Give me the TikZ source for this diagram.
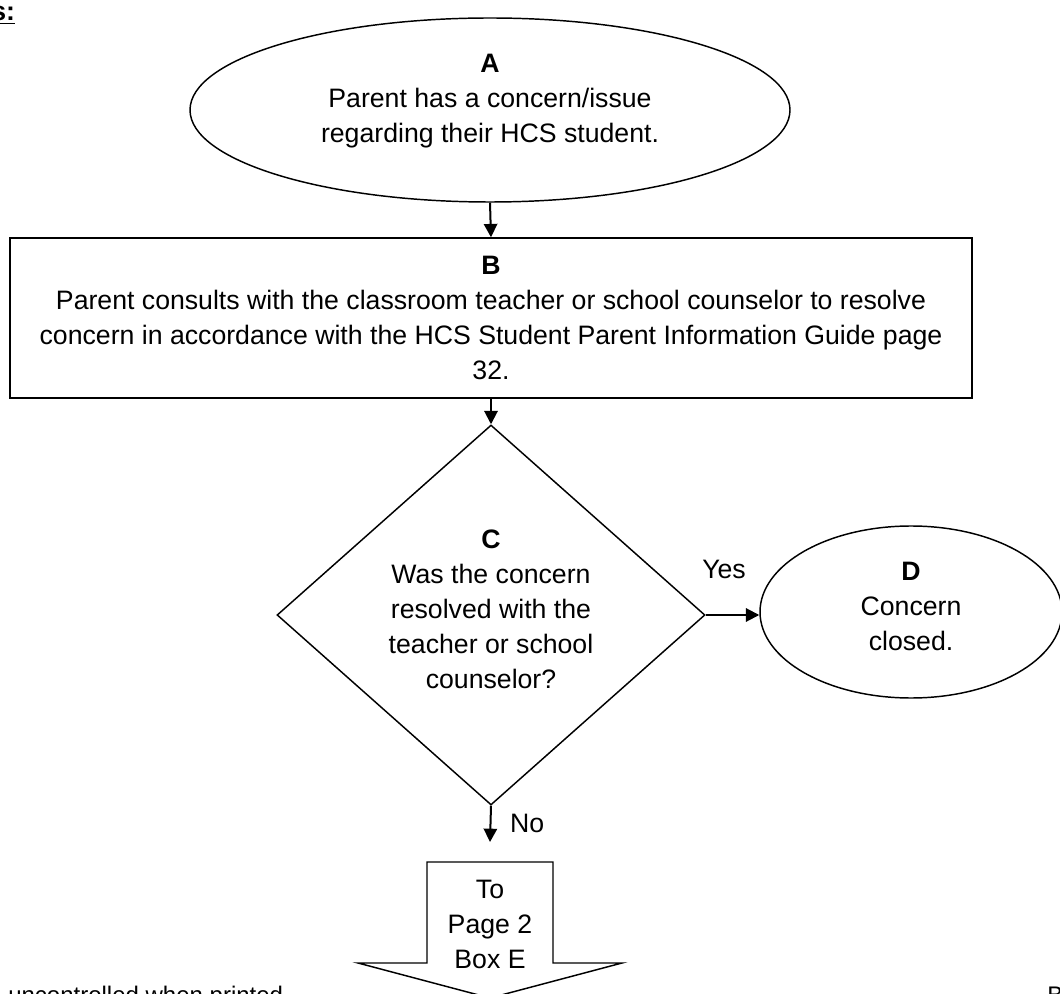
\documentclass[tikz,border=0pt]{standalone}
\usepackage{fontspec}
\setmainfont{Liberation Sans}
\usetikzlibrary{shapes.geometric,arrows.meta}
\begin{document}
\begin{tikzpicture}[x=0.75pt,y=-0.75pt,
  every node/.style={font=\fontsize{20}{26.25}\selectfont, align=center, inner sep=0pt},
  shapebox/.style={draw, line width=1.1pt},
  conn/.style={draw, line width=1.5pt, -{Triangle[length=10pt,width=10pt]}},
  lbl/.style={font=\fontsize{20}{26.25}\selectfont}]
\useasboundingbox (0,0) rectangle (1060,994);
\clip (0,0) rectangle (1060,994);
% nodes
\node[shapebox, ellipse, minimum width=450pt, minimum height=138pt] (A) at (490,110) {};
\node at (490,101) {\textbf{A}\\Parent has a concern/issue\\regarding their HCS student.};
\node[shapebox, rectangle, minimum width=721.5pt, minimum height=120pt] (B) at (491,318) {};
\node at (491,318) {\textbf{B}\\Parent consults with the classroom teacher or school counselor to resolve\\concern in accordance with the HCS Student Parent Information Guide page\\32.};
\node[shapebox, diamond, minimum width=321pt, minimum height=285pt] (C) at (491,615) {};
\node at (491,609) {\textbf{C}\\Was the concern\\resolved with the\\teacher or school\\counselor?};
\node[shapebox, ellipse, minimum width=226.5pt, minimum height=129pt] (D) at (911,612) {};
\node at (911,606) {\textbf{D}\\Concern\\closed.};
% off-page connector
\draw[line width=1.1pt] (427,862) -- (553,862) -- (553,963) -- (622,963) -- (490,998) -- (358,963) -- (427,963) -- cycle;
\node (E) at (490,924) {To\\Page 2\\Box E};
\coordinate (Etop) at (490,862);
% connectors
\draw[conn] (A.south) -- (B.north);
\draw[conn] (B.south) -- (C.north);
\draw[conn] (C.east) -- (C.east -| D.west);
\draw[conn] (C.south) -- ([yshift=15pt]Etop) node[pos=0.5, right=14pt, lbl] {No};
\node[lbl] at (724,569) {Yes};
% cropped page texts
\node[anchor=base west, font=\fontsize{20}{22}\selectfont\bfseries] at (-9,21) {\underline{s:}};
\node[anchor=base west, font=\fontsize{18}{20}\selectfont] at (8,1003) {uncontrolled when printed};
\node[anchor=base west, font=\fontsize{18}{20}\selectfont] at (1047,1003) {B};
\end{tikzpicture}
\end{document}
